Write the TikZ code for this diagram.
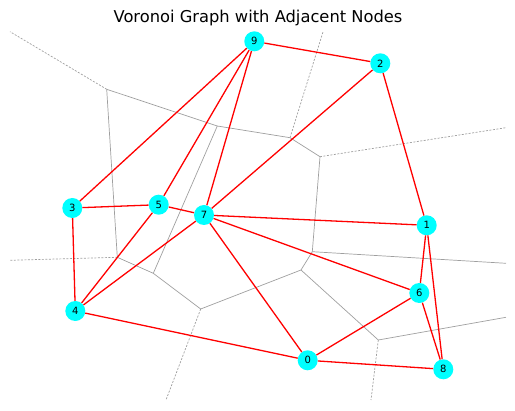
\documentclass[tikz,border=0pt]{standalone}
\usepackage{fontspec}
\setmainfont{DejaVu Sans}
\definecolor{sitecyan}{RGB}{0,255,255}
\tikzset{
    site/.style={circle,fill=sitecyan,minimum size=20pt,inner sep=0pt,font=\fontsize{10}{12}\selectfont},
    adj/.style={red,line width=1.3pt},
    ridge/.style={gray!75,line width=0.7pt},
    farridge/.style={ridge,dash pattern=on 2pt off 1.5pt}
}
\begin{document}
\begin{tikzpicture}[x=1pt,y=-1pt]
    \useasboundingbox (0,0) rectangle (515,411);
    \node (title) at (258,18) {\fontsize{16.3}{20}\selectfont Voronoi Graph with Adjacent Nodes};

    % Voronoi vertices %
    \coordinate (va) at (106.7,89.3);
    \coordinate (vb) at (217.3,126);
    \coordinate (vc) at (290,137.7);
    \coordinate (vd) at (320,156.7);
    \coordinate (ve) at (117.3,257.3);
    \coordinate (vf) at (153.3,273.3);
    \coordinate (vg) at (312.3,251.7);
    \coordinate (vh) at (200.7,309);
    \coordinate (vi) at (301,270);
    \coordinate (vj) at (378.3,340);
    % far ends %
    \coordinate (fa) at (10,31.7);
    \coordinate (fc) at (323.3,31);
    \coordinate (fd) at (506,127.7);
    \coordinate (fe) at (10,260.3);
    \coordinate (fg) at (506,263.3);
    \coordinate (fh) at (166,400);
    \coordinate (fj) at (371,400);
    \coordinate (fk) at (506,317.3);

    % Ridges %
    \draw[ridge] (va) -- (vb) -- (vc) -- (vd) -- (vg) -- (vi) -- (vh) -- (vf) -- (ve) -- (va);
    \draw[ridge] (vb) -- (vf);
    \draw[ridge] (vi) -- (vj) -- (fk);
    \draw[ridge] (vg) -- (fg);
    \draw[farridge] (va) -- (fa);
    \draw[farridge] (vc) -- (fc);
    \draw[farridge] (vd) -- (fd);
    \draw[farridge] (ve) -- (fe);
    \draw[farridge] (vh) -- (fh);
    \draw[farridge] (vj) -- (fj);

    % Sites %
    \node[site] (n0) at (307.7,360.3) {0};
    \node[site] (n1) at (426.7,225.3) {1};
    \node[site] (n2) at (380.3,63.3) {2};
    \node[site] (n3) at (72.3,208) {3};
    \node[site] (n4) at (75.3,311) {4};
    \node[site] (n5) at (158.7,204.7) {5};
    \node[site] (n6) at (419.3,293) {6};
    \node[site] (n7) at (204,215) {7};
    \node[site] (n8) at (443.3,369.3) {8};
    \node[site] (n9) at (254.3,41.3) {9};

    % Adjacent pairs %
    \foreach \a/\b in {9/2,9/3,9/5,9/7,2/7,2/1,3/5,3/4,5/7,5/4,7/4,7/1,7/6,7/0,1/6,1/8,6/0,6/8,4/0,0/8}
        \draw[adj] (n\a) -- (n\b);
\end{tikzpicture}
\end{document}
